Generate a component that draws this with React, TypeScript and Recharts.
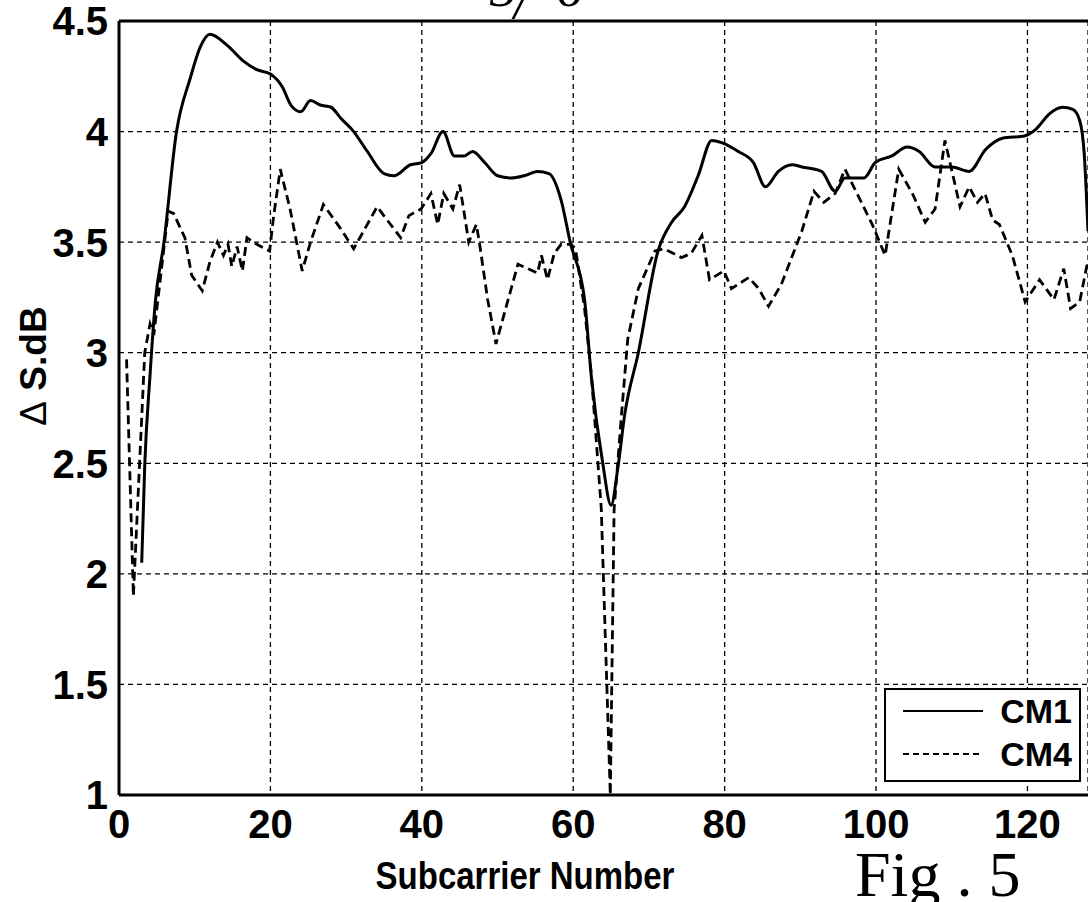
import React from 'react';
import { LineChart, Line, XAxis, YAxis, CartesianGrid, ReferenceLine, Legend } from 'recharts';

// subcarrier number, delta S (dB)
const cm1Points: [number, number][] = [
  [3, 2.05], [3.4, 2.49], [4.1, 2.9], [4.8, 3.23], [5.9, 3.49], [7.6, 4.0], [9.4, 4.24], [10.7, 4.38],
  [12, 4.44], [14.3, 4.39], [16.4, 4.32], [18.2, 4.28], [20, 4.26], [21.6, 4.2], [22.7, 4.12], [24, 4.09],
  [25.3, 4.14], [26.6, 4.12], [28, 4.11], [29.3, 4.06], [31, 4.0], [32.8, 3.91], [35, 3.81], [36.3, 3.8],
  [38.5, 3.85], [40, 3.86], [41.2, 3.9], [42.8, 4.0], [44.3, 3.89], [45.6, 3.89], [46.7, 3.91], [48.3, 3.86],
  [50, 3.8], [51.8, 3.79], [53.5, 3.8], [55.3, 3.82], [56.8, 3.81], [58.4, 3.69], [59.6, 3.5], [61.5, 3.24],
  [62.4, 2.89], [63.9, 2.5], [65, 2.31], [65.9, 2.48], [66.8, 2.72], [68.6, 3.0], [71.2, 3.46], [73, 3.59],
  [74.7, 3.66], [76.5, 3.8], [78.3, 3.96], [79.6, 3.95], [81.8, 3.91], [83.8, 3.86], [85.4, 3.75], [87.1, 3.82],
  [88.9, 3.85], [90.2, 3.84], [92.8, 3.82], [94.6, 3.73], [95.9, 3.79], [98.4, 3.79], [99.9, 3.86], [102.1, 3.89],
  [104.1, 3.93], [105.7, 3.91], [107.8, 3.84], [110, 3.84], [112.3, 3.82], [114.5, 3.92], [116.7, 3.97], [119.6, 3.98],
  [121.1, 4.01], [122.9, 4.08], [124.6, 4.11], [126, 4.1], [126.9, 4.05], [127.5, 3.9], [128, 3.55],
];

const cm4Points: [number, number][] = [
  [1, 2.97], [1.9, 1.9], [3.4, 3.0], [4.1, 3.13], [4.6, 3.08], [6.5, 3.64], [7.2, 3.63], [8.7, 3.52],
  [9.6, 3.35], [11, 3.28], [12, 3.41], [13, 3.5], [13.8, 3.44], [14.4, 3.49], [14.9, 3.39], [15.6, 3.48],
  [16.3, 3.37], [16.9, 3.52], [18.2, 3.49], [19.9, 3.46], [20.4, 3.61], [21.3, 3.83], [22.6, 3.65], [24.2, 3.37],
  [25.3, 3.5], [27, 3.67], [29.3, 3.56], [31, 3.47], [34.1, 3.66], [37.2, 3.52], [38.3, 3.62], [39.9, 3.65],
  [41.2, 3.72], [42.1, 3.58], [42.9, 3.72], [44.1, 3.65], [45, 3.76], [46.2, 3.5], [47.2, 3.58], [47.6, 3.5],
  [48.7, 3.24], [49.8, 3.04], [51.4, 3.24], [52.7, 3.4], [55.3, 3.36], [55.8, 3.44], [56.6, 3.33], [57.5, 3.45],
  [58.4, 3.49], [59.7, 3.49], [60.3, 3.47], [61.5, 3.2], [62.4, 2.9], [63.7, 2.3], [64.9, 1.0], [65.4, 2.29],
  [66.4, 2.73], [67.2, 3.06], [68.6, 3.29], [70.8, 3.46], [72, 3.47], [74.3, 3.43], [75.6, 3.45], [77, 3.53],
  [78, 3.33], [79.9, 3.37], [80.9, 3.29], [83.2, 3.34], [84.5, 3.29], [85.8, 3.21], [87.5, 3.31], [89.3, 3.47],
  [90.2, 3.55], [91.8, 3.73], [93.1, 3.68], [94.6, 3.72], [95.9, 3.83], [97.2, 3.74], [99.5, 3.58], [101.2, 3.44],
  [103, 3.83], [104.8, 3.72], [106.5, 3.59], [107.8, 3.65], [109.1, 3.96], [111.1, 3.66], [112.3, 3.75], [113.4, 3.68],
  [114.4, 3.72], [115.4, 3.6], [116.3, 3.58], [118, 3.44], [119.7, 3.23], [121.6, 3.33], [123.5, 3.24], [124.8, 3.38],
  [125.7, 3.2], [126.9, 3.23], [128, 3.42],
];

const seriesNames = ['CM1', 'CM4'];
const xTicks = [0, 20, 40, 60, 80, 100, 120];
const yTicks = [1, 1.5, 2, 2.5, 3, 3.5, 4, 4.5];

const SANS = '"Liberation Sans", Arial, Helvetica, sans-serif';
const SERIF = '"Liberation Serif", "Times New Roman", serif';

const toRows = (pts: [number, number][]) => pts.map(([x, y]) => ({ x, y }));

function XTick({ x, y, payload }: any) {
  return (
    <text x={x} y={y} dy="0.71em" textAnchor="middle" fontFamily={SANS} fontWeight="bold" fontSize={40} fill="#000">
      {payload.value}
    </text>
  );
}

function YTick({ x, y, payload }: any) {
  return (
    <text x={x} y={y} dy="0.36em" textAnchor="end" fontFamily={SANS} fontWeight="bold" fontSize={40} fill="#000">
      {payload.value}
    </text>
  );
}

function YLabel() {
  return (
    <text
      transform="translate(46 366) rotate(-90)"
      textAnchor="middle"
      fontFamily={SANS}
      fontWeight="bold"
      fontSize={37}
      fill="#000"
    >
      <tspan fontWeight="normal">Δ</tspan> S.dB
    </text>
  );
}

function XLabel() {
  return (
    <g>
      <text
        transform="translate(525 889) scale(1 1.2)"
        textAnchor="middle"
        fontFamily={SANS}
        fontWeight="bold"
        fontSize={33}
        fill="#000"
      >
        Subcarrier Number
      </text>
      <text x={855} y={896} fontFamily={SERIF} fontSize={64} fill="#000">
        Fig . 5
      </text>
      <text x={490} y={6} fontFamily={SERIF} fontStyle="italic" fontSize={54} fill="#000">3</text>
      <text x={514} y={18} fontFamily={SERIF} fontStyle="italic" fontSize={54} fill="#000">/</text>
      <text x={556} y={6} fontFamily={SERIF} fontStyle="italic" fontSize={54} fill="#000">6</text>
    </g>
  );
}

function LegendBox() {
  return (
    <svg width={197} height={94}>
      <rect x={1} y={1} width={195} height={92} fill="#fff" stroke="#000" strokeWidth={2} />
      {seriesNames.map((name, i) => {
        const cy = i === 0 ? 23 : 66;
        return (
          <g key={name}>
            <line x1={19} x2={99} y1={cy} y2={cy} stroke="#000" strokeWidth={2.2} strokeDasharray={i === 1 ? '6 4' : undefined} />
            <text x={188} y={cy} dy="0.36em" textAnchor="end" fontFamily={SANS} fontWeight="bold" fontSize={34} fill="#000">
              {name}
            </text>
          </g>
        );
      })}
    </svg>
  );
}

export default function App() {
  return (
    <div style={{ position: 'absolute', left: 0, top: 0, width: 1088, height: 902, background: '#fff', overflow: 'hidden' }}>
      <LineChart width={1088} height={902} margin={{ top: 21, right: 0, bottom: 0, left: 0 }}>
        <CartesianGrid stroke="#000" strokeWidth={1.3} strokeDasharray="5 4" />
        <XAxis
          dataKey="x"
          type="number"
          domain={[0, 128]}
          ticks={xTicks}
          allowDataOverflow
          height={107}
          tickLine={false}
          tickSize={0}
          tickMargin={15}
          tick={<XTick />}
          axisLine={{ stroke: '#000', strokeWidth: 3 }}
          label={<XLabel />}
        />
        <YAxis
          type="number"
          domain={[1, 4.5]}
          ticks={yTicks}
          allowDataOverflow
          width={119}
          tickLine={false}
          tickSize={0}
          tickMargin={11}
          tick={<YTick />}
          axisLine={{ stroke: '#000', strokeWidth: 3 }}
          label={<YLabel />}
        />
        <ReferenceLine y={4.5} stroke="#000" strokeWidth={3} />
        <Legend
          layout="vertical"
          align="center"
          verticalAlign="middle"
          content={<LegendBox />}
          wrapperStyle={{ position: 'absolute', left: 884, top: 688, width: 197, height: 94 }}
        />
        <Line
          data={toRows(cm1Points)}
          dataKey="y"
          name={seriesNames[0]}
          type="monotone"
          stroke="#000"
          strokeWidth={3}
          dot={false}
          activeDot={false}
          isAnimationActive={false}
        />
        <Line
          data={toRows(cm4Points)}
          dataKey="y"
          name={seriesNames[1]}
          type="linear"
          stroke="#000"
          strokeWidth={2.8}
          strokeDasharray="9 5"
          dot={false}
          activeDot={false}
          isAnimationActive={false}
        />
      </LineChart>
    </div>
  );
}
